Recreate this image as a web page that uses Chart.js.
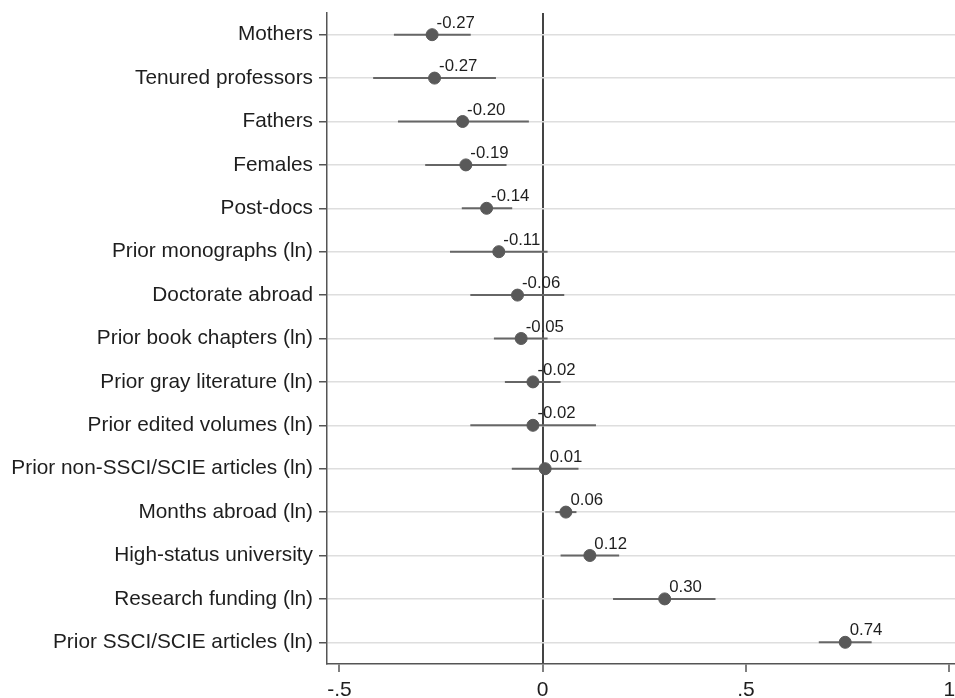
<!DOCTYPE html>
<html>
<head>
<meta charset="utf-8">
<script src="https://cdn.jsdelivr.net/npm/chart.js@4/dist/chart.umd.min.js"></script>
<style>
  html, body { margin: 0; padding: 0; background: #fff; }
  canvas { display: block; }
</style>
</head>
<body>
<canvas id="coef" width="955" height="698"></canvas>
<script>
// Predictors, top to bottom
const categories = [
  "Mothers",
  "Tenured professors",
  "Fathers",
  "Females",
  "Post-docs",
  "Prior monographs (ln)",
  "Doctorate abroad",
  "Prior book chapters (ln)",
  "Prior gray literature (ln)",
  "Prior edited volumes (ln)",
  "Prior non-SSCI/SCIE articles (ln)",
  "Months abroad (ln)",
  "High-status university",
  "Research funding (ln)",
  "Prior SSCI/SCIE articles (ln)"
];

// Point estimates
const estimates = [-0.272, -0.266, -0.197, -0.189, -0.138, -0.108, -0.062, -0.053, -0.024, -0.024, 0.006, 0.057, 0.116, 0.300, 0.744];

// Confidence interval bounds
const ciLower = [-0.366, -0.417, -0.356, -0.289, -0.199, -0.228, -0.178, -0.120, -0.093, -0.178, -0.076, 0.031, 0.044, 0.173, 0.679];
const ciUpper = [-0.177, -0.115, -0.034, -0.089, -0.075, 0.012, 0.053, 0.012, 0.044, 0.131, 0.088, 0.083, 0.188, 0.425, 0.809];

// X axis tick values and their printed labels
const xTickValues = [-0.5, 0, 0.5, 1];
const xTickLabels = ["-.5", "0", ".5", "1"];

const FONT = "'Liberation Sans', Arial, Helvetica, sans-serif";

const pointData = estimates.map((v, i) => ({ x: v, y: i }));

const ciDatasets = categories.map((c, i) => ({
  type: 'line',
  data: [{ x: ciLower[i], y: i }, { x: ciUpper[i], y: i }],
  borderColor: '#666666',
  borderWidth: 2,
  pointRadius: 0,
  fill: false,
  order: 2
}));

// Value labels above-right of each estimate
const valueLabels = {
  id: 'valueLabels',
  afterDatasetsDraw(chart) {
    const meta = chart.getDatasetMeta(0);
    const ctx = chart.ctx;
    ctx.save();
    ctx.font = "16.8px " + FONT;
    ctx.fillStyle = '#1e1e1e';
    ctx.textAlign = 'left';
    ctx.textBaseline = 'alphabetic';
    meta.data.forEach((pt, i) => {
      ctx.fillText(estimates[i].toFixed(2), pt.x + 4.5, pt.y - 7);
    });
    ctx.restore();
  }
};

// Let the plot area run to the right edge of the canvas
function noSidePadding(scale) {
  scale.paddingLeft = 0;
  scale.paddingRight = 0;
}

new Chart(document.getElementById('coef'), {
  type: 'scatter',
  data: {
    datasets: [
      {
        data: pointData,
        backgroundColor: '#595959',
        borderColor: '#595959',
        pointRadius: 6,
        pointHoverRadius: 6,
        showLine: false,
        order: 0
      },
      ...ciDatasets
    ]
  },
  options: {
    responsive: false,
    devicePixelRatio: 1,
    animation: false,
    layout: { autoPadding: false, padding: { top: 13, right: 0, left: 0, bottom: 0 } },
    plugins: { legend: { display: false }, tooltip: { enabled: false } },
    scales: {
      x: {
        type: 'linear',
        min: -0.5305,
        max: 1.014,
        afterBuildTicks(scale) {
          scale.ticks = xTickValues.map(v => ({ value: v }));
        },
        afterFit(scale) {
          scale.height = 34;
          noSidePadding(scale);
        },
        ticks: {
          autoSkip: false,
          maxRotation: 0,
          padding: 6,
          color: '#1e1e1e',
          font: { family: FONT, size: 21 },
          callback: (v) => xTickLabels[xTickValues.indexOf(v)]
        },
        grid: {
          drawOnChartArea: true,
          color: (c) => (c.tick && c.tick.value === 0) ? '#444444' : 'rgba(0,0,0,0)',
          lineWidth: (c) => (c.tick && c.tick.value === 0) ? 2 : 0,
          tickColor: '#555555',
          tickLength: 8,
          tickWidth: 1.5
        },
        border: { display: true, color: '#555555', width: 1.5 }
      },
      y: {
        type: 'linear',
        reverse: true,
        min: -0.5,
        max: 14.5,
        afterBuildTicks(scale) {
          scale.ticks = categories.map((c, i) => ({ value: i }));
        },
        afterFit(scale) {
          scale.width = 327;
          scale.paddingTop = 0;
          scale.paddingBottom = 0;
        },
        ticks: {
          autoSkip: false,
          padding: 6,
          color: '#1e1e1e',
          font: { family: FONT, size: 20.8 },
          callback: (v) => categories[v]
        },
        grid: {
          drawOnChartArea: true,
          color: '#dedede',
          lineWidth: 1.5,
          tickColor: '#555555',
          tickLength: 8,
          tickWidth: 1.5
        },
        border: { display: true, color: '#555555', width: 1.5 }
      }
    }
  },
  plugins: [valueLabels]
});
</script>
</body>
</html>
